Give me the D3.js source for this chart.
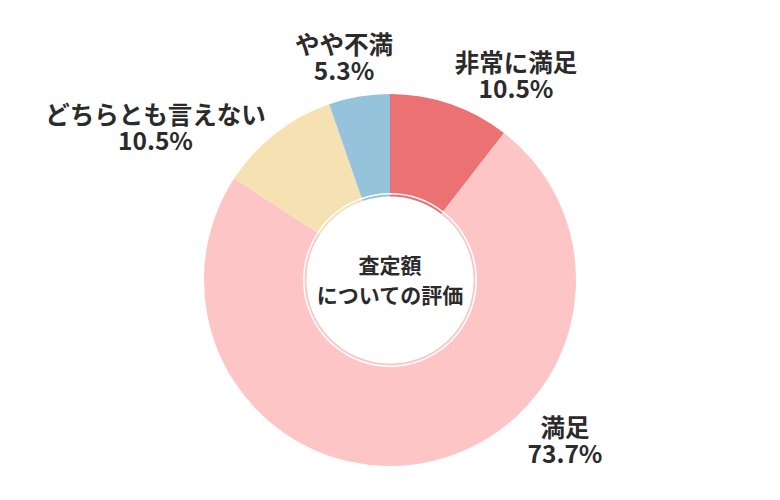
<!DOCTYPE html>
<html><head><meta charset="utf-8">
<script src="https://cdn.jsdelivr.net/npm/d3@7"></script>
<style>
html,body{margin:0;padding:0;background:#fff;}
text{font-family:"Noto Sans CJK JP","Noto Sans",sans-serif;font-weight:700;fill:#2b2b2b;}
</style></head>
<body>
<svg id="chart" width="780" height="500"></svg>
<script>
const categories = ["非常に満足", "満足", "どちらとも言えない", "やや不満"];
const values = [10.5, 73.7, 10.5, 5.3];
const valueLabels = ["10.5%", "73.7%", "10.5%", "5.3%"];
const colors = ["#eb7172", "#fec5c6", "#f5e1b2", "#95c3dc"];
const centerTitle = ["査定額", "についての評価"];

// layout (label centres relative to chart centre)
const labelOffsets = [[126, -204], [175, 161], [-234.5, -152], [-46, -222]];

const svg = d3.select("#chart");
const cx = 390, cy = 280, outerR = 186, innerR = 87;
const g = svg.append("g").attr("transform", `translate(${cx},${cy})`);

const data = categories.map((c, i) => ({cat: c, value: values[i], label: valueLabels[i], color: colors[i]}));
const pie = d3.pie().value(d => d.value).sort(null);
const arcs = pie(data);

const arc = d3.arc().innerRadius(innerR).outerRadius(outerR);
const thin = d3.arc().innerRadius(83.6).outerRadius(85.4);

g.selectAll("path.seg").data(arcs).join("path")
  .attr("class", "seg").attr("d", arc).attr("fill", d => d.data.color);
g.selectAll("path.thin").data(arcs).join("path")
  .attr("class", "thin").attr("d", thin).attr("fill", d => d.data.color);

const fs = 24.5;
arcs.forEach((a, i) => {
  const [dx, dy] = labelOffsets[i];
  g.append("text").attr("text-anchor", "middle").attr("font-size", fs)
    .attr("x", dx).attr("y", dy - 13.5 + 0.37 * fs).text(a.data.cat);
  g.append("text").attr("text-anchor", "middle").attr("font-size", fs)
    .attr("x", dx).attr("y", dy + 13 + 0.37 * fs).text(a.data.label);
});

const cfs = 21;
g.append("text").attr("text-anchor", "middle").attr("font-size", cfs)
  .attr("x", 0).attr("y", -15 + 0.37 * cfs).text(centerTitle[0]);
g.append("text").attr("text-anchor", "middle").attr("font-size", cfs)
  .attr("x", 0).attr("y", 15.5 + 0.37 * cfs).text(centerTitle[1]);
</script>
</body></html>
